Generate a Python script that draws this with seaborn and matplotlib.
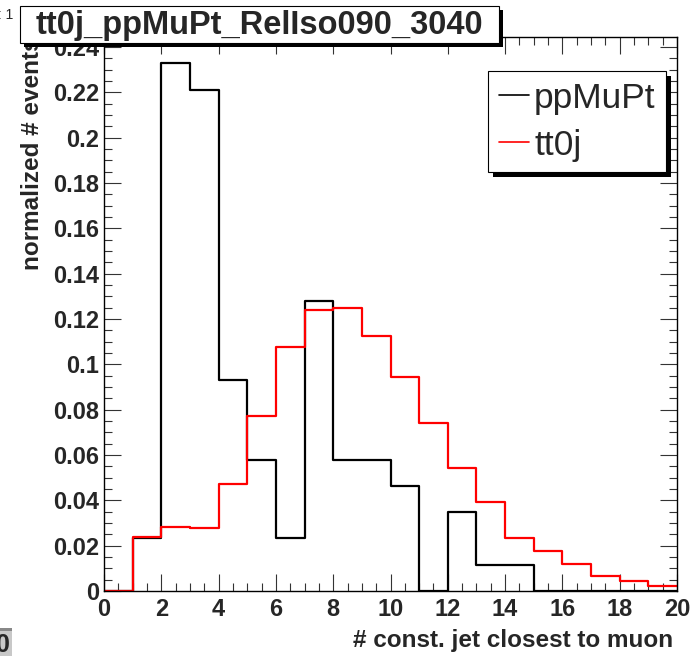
import numpy as np
import pandas as pd
import matplotlib
matplotlib.use("Agg")
import matplotlib.pyplot as plt
import seaborn as sns
from matplotlib.patches import Rectangle
from matplotlib.lines import Line2D
from matplotlib.ticker import MultipleLocator, FuncFormatter

# ---- data (bin edges 0..20, one entry per unit bin) ----
bin_edges = list(range(0, 21))
ppMuPt = [0.0, 0.0232, 0.2327, 0.2210, 0.0931, 0.0579, 0.0232, 0.1280, 0.0579, 0.0579,
          0.0463, 0.0, 0.0350, 0.0115, 0.0115, 0.0, 0.0, 0.0, 0.0, 0.0]
tt0j = [0.0, 0.0238, 0.0284, 0.0278, 0.0474, 0.0771, 0.1074, 0.1240, 0.1250, 0.1126,
        0.0943, 0.0740, 0.0541, 0.0391, 0.0234, 0.0178, 0.0119, 0.0065, 0.0043, 0.0022]
series_names = ["ppMuPt", "tt0j"]
series_colors = {"ppMuPt": "black", "tt0j": "red"}
title_text = "tt0j_ppMuPt_RelIso090_3040"
xlabel_text = "# const. jet closest to muon"
ylabel_text = "normalized # events"

centers = [(a + b) / 2 for a, b in zip(bin_edges[:-1], bin_edges[1:])]
df = pd.DataFrame({
    "x": centers * 2,
    "w": ppMuPt + tt0j,
    "sample": ["ppMuPt"] * len(ppMuPt) + ["tt0j"] * len(tt0j),
})

sns.set_style("ticks")
plt.rcParams["font.family"] = ["Liberation Sans", "DejaVu Sans"]

W, H = 692, 656
fig = plt.figure(figsize=(W / 100, H / 100), dpi=100)
fig.patch.set_facecolor("white")

def fx(px):
    return px / W

def fy(py):
    return 1 - py / H

ax_l, ax_r, ax_t, ax_b = 104, 677, 37, 591
ax = fig.add_axes([fx(ax_l), fy(ax_b), (ax_r - ax_l) / W, (ax_b - ax_t) / H])

for name in series_names:
    sub = df[df["sample"] == name]
    sns.histplot(data=sub, x="x", weights="w", bins=bin_edges, element="step",
                 fill=False, color=series_colors[name], linewidth=1.6, ax=ax)

ymax = max(max(ppMuPt), max(tt0j)) * 1.05
ax.set_xlim(0, 20)
ax.set_ylim(0, ymax)

ax.xaxis.set_major_locator(MultipleLocator(2))
ax.xaxis.set_minor_locator(MultipleLocator(0.5))
ax.yaxis.set_major_locator(MultipleLocator(0.02))
ax.yaxis.set_minor_locator(MultipleLocator(0.005))

def yfmt(v, pos):
    s = f"{v:.2f}".rstrip("0").rstrip(".")
    return s

ax.yaxis.set_major_formatter(FuncFormatter(yfmt))
ax.xaxis.set_major_formatter(FuncFormatter(lambda v, p: f"{v:g}"))

ax.tick_params(which="both", direction="in", top=True, right=True, color="#333333", width=0.8)
ax.tick_params(which="major", length=12)
ax.tick_params(which="minor", length=6)
ax.tick_params(axis="y", which="major", pad=3.5)
ax.tick_params(axis="x", which="major", pad=5)
for lab in ax.get_xticklabels() + ax.get_yticklabels():
    lab.set_fontsize(17)
    lab.set_fontweight("bold")
for sp in ax.spines.values():
    sp.set_color("black")
    sp.set_linewidth(1.0)

ax.set_xlabel(xlabel_text, fontsize=17.5, fontweight="bold", loc="right")
ax.xaxis.set_label_coords(0.993, -0.068)
ax.set_ylabel(ylabel_text, fontsize=17.5, fontweight="bold", loc="top")
ax.yaxis.set_label_coords(-0.104, 1.0)

# legend
handles = [Line2D([], [], color=series_colors[n], linewidth=1.2) for n in series_names]
leg = ax.legend(handles, series_names, loc="upper left",
                bbox_to_anchor=(fx(488), fy(71)), bbox_transform=fig.transFigure,
                borderaxespad=0, fontsize=25.5, handlelength=0.85, handletextpad=0.15,
                labelspacing=0.4, borderpad=0.3, frameon=True, fancybox=False,
                framealpha=1)
leg.get_frame().set_edgecolor("black")
leg.get_frame().set_linewidth(0.8)
leg.set_zorder(10)

fig.canvas.draw()
bb = leg.get_window_extent()
shadow = Rectangle((bb.x0 + 5, bb.y0 - 5), bb.width, bb.height, transform=None,
                   facecolor="black", edgecolor="none", zorder=9.9, clip_on=False)
ax.add_artist(shadow)

# title box with shadow
tb_l, tb_r, tb_t, tb_b = 20, 499, 6, 43
fig.patches.append(Rectangle((fx(tb_l + 4), fy(tb_b + 4)), (tb_r - tb_l) / W, (tb_b - tb_t) / H,
                             transform=fig.transFigure, facecolor="black", edgecolor="none", zorder=2.8))
fig.patches.append(Rectangle((fx(tb_l), fy(tb_b)), (tb_r - tb_l) / W, (tb_b - tb_t) / H,
                             transform=fig.transFigure, facecolor="white", edgecolor="black",
                             linewidth=0.8, zorder=2.9))
fig.text(fx((tb_l + tb_r) / 2), fy((tb_t + tb_b) / 2 + 1), title_text, fontsize=23.5,
         fontweight="bold", ha="center", va="center", zorder=3)

# small leftovers at canvas edges
fig.text(fx(-2), fy(15), ": 1", fontsize=10, ha="left", va="center", zorder=2)
fig.patches.append(Rectangle((0, 0), fx(12), (H - 628) / H, transform=fig.transFigure,
                             facecolor="#c8c8c8", edgecolor="none", zorder=1))
fig.patches.append(Rectangle((0, fy(631)), fx(12), 3 / H, transform=fig.transFigure,
                             facecolor="#888888", edgecolor="none", zorder=1))
fig.text(fx(-4), fy(657), "0", fontsize=18, fontweight="bold", ha="left", va="bottom", zorder=2)

fig.savefig("out.png", dpi=100)
